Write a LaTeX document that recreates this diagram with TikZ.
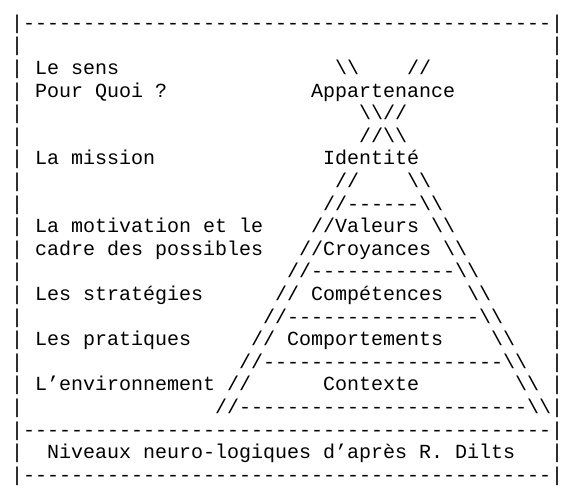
\documentclass[tikz,border=0pt]{standalone}
\usepackage{fontspec}
\setmonofont{Liberation Mono}
\usetikzlibrary{positioning}
\newcommand\dbs{\textbackslash\textbackslash}
\tikzset{
  ascii/.style = {font=\ttfamily\fontsize{10}{11}\selectfont, anchor=base west,
                  inner sep=0pt, outer sep=0pt, text=black},
}

\begin{document}
\begin{tikzpicture}[x=6pt, y=-11.3pt]
  \useasboundingbox (-0.9167,-1.296) rectangle (47.0833,20.52);
  % frame
  \foreach \r in {0,...,20} {
    \node[ascii] (lbar\r) at (0,\r) {|};
    \node[ascii] (rbar\r) at (45,\r) {|};
  }
  \node[ascii] (topline) at (1,0) {--------------------------------------------};
  \node[ascii] (midline) at (1,18) {--------------------------------------------};
  \node[ascii] (botline) at (1,20) {--------------------------------------------};
  % left column
  \node[ascii] (sens)      at (2,2)  {Le sens};
  \node[ascii] (pourquoi)  at (2,3)  {Pour Quoi ?};
  \node[ascii] (mission)   at (2,6)  {La mission};
  \node[ascii] (motiv)     at (2,9)  {La motivation et le};
  \node[ascii] (cadre)     at (2,10) {cadre des possibles};
  \node[ascii] (strat)     at (2,12) {Les stratégies};
  \node[ascii] (prat)      at (2,14) {Les pratiques};
  \node[ascii] (env)       at (2,16) {L’environnement};
  % pyramid
  \node[ascii] (appl)  at (27,2) {\dbs};
  \node[ascii] (appr)  at (33,2) {//};
  \node[ascii] (appart) at (25,3) {Appartenance};
  \node[ascii] (xup)   at (29,4) {\dbs//};
  \node[ascii] (xdown) at (29,5) {//\dbs};
  \node[ascii] (identite) at (26,6) {Identité};
  \node[ascii] (idl)   at (27,7) {//};
  \node[ascii] (idr)   at (33,7) {\dbs};
  \node[ascii] (sep1)  at (26,8) {//------\dbs};
  \node[ascii] (valeurs)  at (25,9)  {//Valeurs};
  \node[ascii] (valr)     at (35,9)  {\dbs};
  \node[ascii] (croy)     at (24,10) {//Croyances};
  \node[ascii] (croyr)    at (36,10) {\dbs};
  \node[ascii] (sep2)  at (23,11) {//------------\dbs};
  \node[ascii] (compl) at (22,12) {//};
  \node[ascii] (comp)  at (25,12) {Compétences};
  \node[ascii] (compr) at (38,12) {\dbs};
  \node[ascii] (sep3)  at (21,13) {//----------------\dbs};
  \node[ascii] (comportl) at (20,14) {//};
  \node[ascii] (comport)  at (23,14) {Comportements};
  \node[ascii] (comportr) at (40,14) {\dbs};
  \node[ascii] (sep4)  at (19,15) {//--------------------\dbs};
  \node[ascii] (ctxl)  at (18,16) {//};
  \node[ascii] (ctx)   at (26,16) {Contexte};
  \node[ascii] (ctxr)  at (42,16) {\dbs};
  \node[ascii] (sep5)  at (17,17) {//------------------------\dbs};
  % caption row
  \node[ascii] (titre) at (3,19) {Niveaux neuro-logiques d’après R. Dilts};
\end{tikzpicture}
\end{document}
